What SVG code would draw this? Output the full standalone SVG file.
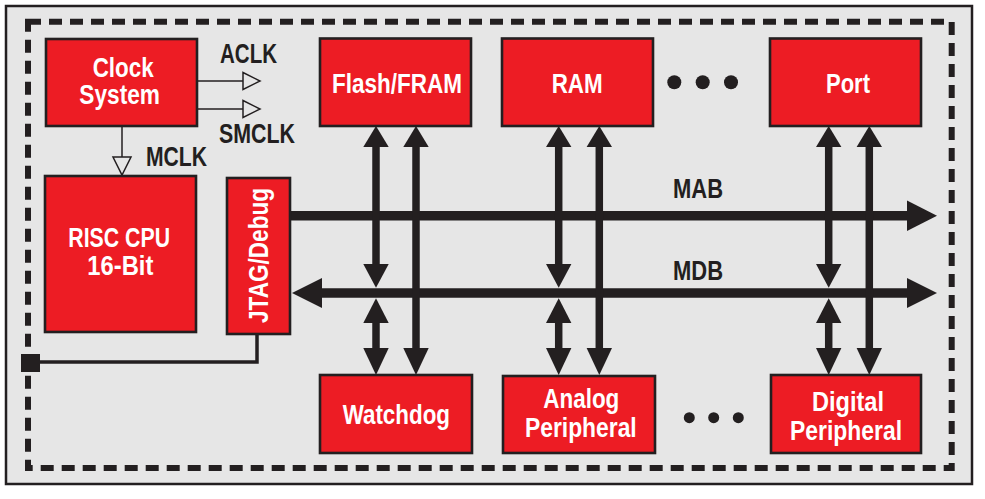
<svg xmlns="http://www.w3.org/2000/svg" width="985" height="499" viewBox="0 0 985 499">
<defs>
<style>
.blk{fill:#ed1c24;stroke:#231f20;stroke-width:2.6}
.wt{fill:#ffffff;font-family:"Liberation Sans Narrow","Liberation Sans",Arial,sans-serif;font-weight:bold;font-size:27px}
.bt{fill:#231f20;font-family:"Liberation Sans Narrow","Liberation Sans",Arial,sans-serif;font-weight:bold;font-size:27px}
.thin{stroke:#231f20;stroke-width:1.5;fill:none}
.open{fill:#e6e6e6;stroke:#231f20;stroke-width:1.5}
.vbus{stroke:#231f20;stroke-width:7.5;fill:none}
.hbus{stroke:#231f20;stroke-width:9.5;fill:none}
.ah{fill:#231f20}
</style>
</defs>
<rect x="0" y="0" width="985" height="499" fill="#ffffff"/>
<rect id="outer" x="6" y="6" width="966" height="478" fill="#e6e6e6" stroke="#231f20" stroke-width="2.5"/>
<rect id="boundary" x="28" y="21.7" width="923.7" height="446.3" fill="none" stroke="#231f20" stroke-width="6" stroke-dasharray="13 8"/>

<g id="connectors">
  <line class="thin" x1="197" y1="81" x2="243" y2="81"/>
  <polygon class="open" points="243,72.5 260,81 243,89.5"/>
  <line class="thin" x1="197" y1="109" x2="243" y2="109"/>
  <polygon class="open" points="243,100.5 260,109 243,117.5"/>
  <line class="thin" x1="122" y1="126" x2="122" y2="157"/>
  <polygon class="open" points="113,157 131,157 122,175"/>
  <polyline points="257,334 257,362 28,362" fill="none" stroke="#231f20" stroke-width="3.5"/>
  <rect x="21" y="354" width="19" height="18" fill="#231f20"/>
  <line class="hbus" x1="290" y1="215.7" x2="908" y2="215.7"/>
  <polygon class="ah" points="907,200.5 937,215.7 907,231"/>
  <line class="hbus" x1="320" y1="293" x2="908" y2="293"/>
  <polygon class="ah" points="322,278 292,293 322,308"/>
  <polygon class="ah" points="907,278 937,293 907,308"/>
  <g id="v-flash">
    <polygon class="ah" points="363.3,147 376,126 388.7,147"/>
    <line class="vbus" x1="376" y1="146" x2="376" y2="265"/>
    <polygon class="ah" points="363.3,264 376,287.7 388.7,264"/>
    <polygon class="ah" points="363.3,323 376,298.3 388.7,323"/>
    <line class="vbus" x1="376" y1="322" x2="376" y2="349"/>
    <polygon class="ah" points="363.3,348 376,375 388.7,348"/>
    <polygon class="ah" points="403.3,147 416,126 428.7,147"/>
    <line class="vbus" x1="416" y1="146" x2="416" y2="349"/>
    <polygon class="ah" points="403.3,348 416,375 428.7,348"/>
  </g>
  <g id="v-ram">
    <polygon class="ah" points="546,147 558.7,126 571.4,147"/>
    <line class="vbus" x1="558.7" y1="146" x2="558.7" y2="265"/>
    <polygon class="ah" points="546,264 558.7,287.7 571.4,264"/>
    <polygon class="ah" points="546,323 558.7,298.3 571.4,323"/>
    <line class="vbus" x1="558.7" y1="322" x2="558.7" y2="349"/>
    <polygon class="ah" points="546,348 558.7,375 571.4,348"/>
    <polygon class="ah" points="586.6,147 599.3,126 612,147"/>
    <line class="vbus" x1="599.3" y1="146" x2="599.3" y2="349"/>
    <polygon class="ah" points="586.6,348 599.3,375 612,348"/>
  </g>
  <g id="v-port">
    <polygon class="ah" points="816,147 828.7,126 841.4,147"/>
    <line class="vbus" x1="828.7" y1="146" x2="828.7" y2="265"/>
    <polygon class="ah" points="816,264 828.7,287.7 841.4,264"/>
    <polygon class="ah" points="816,323 828.7,298.3 841.4,323"/>
    <line class="vbus" x1="828.7" y1="322" x2="828.7" y2="349"/>
    <polygon class="ah" points="816,348 828.7,375 841.4,348"/>
    <polygon class="ah" points="856.6,147 869.3,126 882,147"/>
    <line class="vbus" x1="869.3" y1="146" x2="869.3" y2="349"/>
    <polygon class="ah" points="856.6,348 869.3,375 882,348"/>
  </g>
</g>

<g id="labels">
  <text class="bt" x="220" y="63" textLength="57" lengthAdjust="spacingAndGlyphs">ACLK</text>
  <text class="bt" x="219" y="143" textLength="76" lengthAdjust="spacingAndGlyphs">SMCLK</text>
  <text class="bt" x="146" y="166" textLength="61" lengthAdjust="spacingAndGlyphs">MCLK</text>
  <text class="bt" x="673" y="198" textLength="50" lengthAdjust="spacingAndGlyphs">MAB</text>
  <text class="bt" x="673" y="280" textLength="50" lengthAdjust="spacingAndGlyphs">MDB</text>
</g>

<g id="clock">
  <rect class="blk" x="46" y="39" width="151" height="87"/>
  <text class="wt" x="92.7" y="77" textLength="61" lengthAdjust="spacingAndGlyphs">Clock</text>
  <text class="wt" x="79.3" y="104" textLength="80.7" lengthAdjust="spacingAndGlyphs">System</text>
</g>
<g id="cpu">
  <rect class="blk" x="45" y="176" width="151" height="156"/>
  <text class="wt" x="68.3" y="247" textLength="101.7" lengthAdjust="spacingAndGlyphs">RISC CPU</text>
  <text class="wt" x="87.3" y="275" textLength="66" lengthAdjust="spacingAndGlyphs">16-Bit</text>
</g>
<g id="jtag">
  <rect class="blk" x="227" y="178" width="63" height="156"/>
  <text class="wt" transform="translate(268,323) rotate(-90)" x="0" y="0" textLength="135" lengthAdjust="spacingAndGlyphs">JTAG/Debug</text>
</g>
<g id="flash">
  <rect class="blk" x="320" y="38.5" width="151" height="87.5"/>
  <text class="wt" x="332" y="92.7" textLength="130" lengthAdjust="spacingAndGlyphs">Flash/FRAM</text>
</g>
<g id="ram">
  <rect class="blk" x="502" y="38.5" width="151" height="87.5"/>
  <text class="wt" x="551.7" y="93.3" textLength="51" lengthAdjust="spacingAndGlyphs">RAM</text>
</g>
<g id="port">
  <rect class="blk" x="770" y="38.5" width="151" height="87.5"/>
  <text class="wt" x="826" y="93.3" textLength="44" lengthAdjust="spacingAndGlyphs">Port</text>
</g>
<g id="watchdog">
  <rect class="blk" x="320" y="375" width="152" height="78"/>
  <text class="wt" x="342.7" y="424.3" textLength="107.3" lengthAdjust="spacingAndGlyphs">Watchdog</text>
</g>
<g id="analog">
  <rect class="blk" x="503" y="376" width="152" height="77"/>
  <text class="wt" x="543.3" y="408" textLength="76" lengthAdjust="spacingAndGlyphs">Analog</text>
  <text class="wt" x="525" y="437" textLength="111.7" lengthAdjust="spacingAndGlyphs">Peripheral</text>
</g>
<g id="digital">
  <rect class="blk" x="771" y="375" width="150" height="78"/>
  <text class="wt" x="812" y="411" textLength="72" lengthAdjust="spacingAndGlyphs">Digital</text>
  <text class="wt" x="790" y="440" textLength="112" lengthAdjust="spacingAndGlyphs">Peripheral</text>
</g>
<g id="ellipsis-top" fill="#231f20">
  <circle cx="674.3" cy="82.3" r="7"/>
  <circle cx="702.7" cy="82.3" r="7"/>
  <circle cx="731" cy="82.3" r="7"/>
</g>
<g id="ellipsis-bottom" fill="#231f20">
  <circle cx="689.3" cy="417.7" r="5.5"/>
  <circle cx="713.7" cy="417.7" r="5.5"/>
  <circle cx="738.3" cy="417.7" r="5.5"/>
</g>
</svg>
